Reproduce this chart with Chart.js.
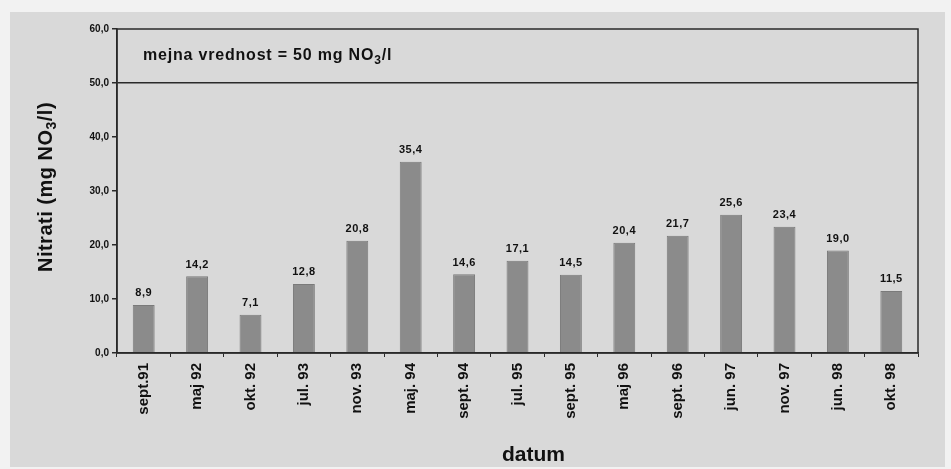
<!DOCTYPE html>
<html>
<head>
<meta charset="utf-8">
<script src="https://cdn.jsdelivr.net/npm/chart.js@4/dist/chart.umd.min.js"></script>
<style>
  html, body { margin: 0; padding: 0; background: #eeeeee; }
  #wrap { width: 951px; height: 469px; }
</style>
</head>
<body>
<div id="wrap"><canvas id="c" width="951" height="469"></canvas></div>
<script>
// Nitrate concentration per sampling date
const categories = ['sept.91', 'maj 92', 'okt. 92', 'jul. 93', 'nov. 93', 'maj. 94', 'sept. 94', 'jul. 95',
                    'sept. 95', 'maj 96', 'sept. 96', 'jun. 97', 'nov. 97', 'jun. 98', 'okt. 98'];
const nitrates = [8.9, 14.2, 7.1, 12.8, 20.8, 35.4, 14.6, 17.1, 14.5, 20.4, 21.7, 25.6, 23.4, 19.0, 11.5];
const limitValue = 50;
const yTicks = [0, 10, 20, 30, 40, 50, 60];
// text pieces: [before subscript, subscript, after subscript]
const limitText = ['mejna vrednost = 50 mg NO', '3', '/l'];
const yTitle = ['Nitrati (mg NO', '3', '/l)'];
const xTitle = 'datum';

const FONT = '"Liberation Sans", Arial, sans-serif';
const fmt = v => v.toFixed(1).replace('.', ',');

// draws text with a lowered, smaller middle part (chemical subscript), starting at x=0
function drawSubText(ctx, parts, size, spacing) {
  ctx.letterSpacing = spacing + 'px';
  ctx.font = 'bold ' + size + 'px ' + FONT;
  let x = 0;
  ctx.fillText(parts[0], x, 0);
  x += ctx.measureText(parts[0]).width;
  ctx.font = 'bold ' + Math.round(size * 0.72) + 'px ' + FONT;
  ctx.fillText(parts[1], x, size * 0.3);
  x += ctx.measureText(parts[1]).width;
  ctx.font = 'bold ' + size + 'px ' + FONT;
  ctx.fillText(parts[2], x, 0);
  x += ctx.measureText(parts[2]).width;
  return x;
}
function measureSubText(ctx, parts, size, spacing) {
  ctx.save();
  ctx.letterSpacing = spacing + 'px';
  ctx.font = 'bold ' + size + 'px ' + FONT;
  let w = ctx.measureText(parts[0]).width + ctx.measureText(parts[2]).width;
  ctx.font = 'bold ' + Math.round(size * 0.72) + 'px ' + FONT;
  w += ctx.measureText(parts[1]).width;
  ctx.restore();
  return w;
}

const framePlugin = {
  id: 'frame',
  beforeDraw(chart) {
    const ctx = chart.ctx;
    ctx.save();
    ctx.fillStyle = '#f2f2f2';
    ctx.fillRect(0, 0, chart.width, chart.height);
    ctx.fillStyle = '#d9d9d9';
    ctx.fillRect(10, 12, chart.width - 16, chart.height - 14);
    ctx.restore();
  },
  afterDraw(chart) {
    const ctx = chart.ctx;
    const a = chart.chartArea;
    const y = chart.scales.y;
    ctx.save();
    // plot border
    ctx.strokeStyle = '#2a2a2a';
    ctx.lineWidth = 1.5;
    ctx.strokeRect(a.left, a.top, a.right - a.left, a.bottom - a.top);
    ctx.fillStyle = '#111';
    ctx.textBaseline = 'middle';
    ctx.textAlign = 'left';
    // limit label in the band above the limit line
    ctx.save();
    ctx.translate(a.left + 26, y.getPixelForValue((limitValue + 60) / 2));
    drawSubText(ctx, limitText, 16, 0.8);
    ctx.restore();
    // y axis title, rotated
    ctx.save();
    const tw = measureSubText(ctx, yTitle, 20, 0.5);
    ctx.translate(46, (a.top + a.bottom) / 2 - 4);
    ctx.rotate(-Math.PI / 2);
    ctx.translate(-tw / 2, 0);
    drawSubText(ctx, yTitle, 20, 0.5);
    ctx.restore();
    // x axis title
    ctx.font = 'bold 21px ' + FONT;
    ctx.textAlign = 'center';
    ctx.fillText(xTitle, (a.left + a.right) / 2 + 16, 455);
    // value labels above bars
    ctx.letterSpacing = '0.5px';
    ctx.font = 'bold 11px ' + FONT;
    ctx.textBaseline = 'bottom';
    const meta = chart.getDatasetMeta(0);
    meta.data.forEach((bar, i) => {
      ctx.fillText(fmt(nitrates[i]), bar.x, bar.y - 6);
    });
    ctx.restore();
  }
};

new Chart(document.getElementById('c'), {
  type: 'bar',
  data: {
    labels: categories,
    datasets: [{
      data: nitrates,
      backgroundColor: '#8b8b8b',
      borderColor: '#7a7a7a',
      borderWidth: 1,
      barPercentage: 0.41,
      categoryPercentage: 1.0
    }]
  },
  options: {
    responsive: false,
    animation: false,
    layout: { padding: { left: 10, right: 33, top: 29, bottom: 4 } },
    plugins: { legend: { display: false }, tooltip: { enabled: false } },
    scales: {
      x: {
        grid: { offset: true, drawOnChartArea: false, tickLength: 4, color: '#2a2a2a' },
        border: { color: '#2a2a2a', width: 1.5 },
        ticks: { minRotation: 90, maxRotation: 90, padding: 6, color: '#111',
                 font: { family: FONT, size: 15, weight: 'bold' } },
        afterFit(s) { s.height = 112; }
      },
      y: {
        min: 0, max: 60,
        afterBuildTicks(s) { s.ticks = yTicks.map(v => ({ value: v })); },
        grid: {
          tickLength: 5,
          color: c => c.tick && c.tick.value === limitValue ? '#2a2a2a' : 'rgba(0,0,0,0)',
          lineWidth: 1.5,
          tickColor: '#2a2a2a'
        },
        border: { color: '#2a2a2a', width: 1.5 },
        ticks: { padding: 3, color: '#111', callback: v => fmt(v),
                 font: { family: FONT, size: 10, weight: 'bold' } },
        afterFit(s) { s.width = 107; }
      }
    }
  },
  plugins: [framePlugin]
});
</script>
</body>
</html>
